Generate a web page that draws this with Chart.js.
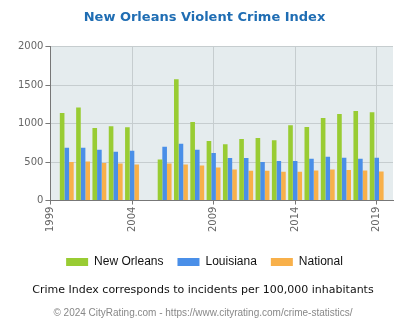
<!DOCTYPE html>
<html><head><meta charset="utf-8">
<script src="https://cdn.jsdelivr.net/npm/chart.js@4.4.1/dist/chart.umd.min.js"></script>
<style>
html,body{margin:0;padding:0;background:#fff;}
#wrap{position:relative;width:406px;height:330px;}
#cap{position:absolute;left:0;width:406px;top:283px;text-align:center;font-family:"DejaVu Sans",sans-serif;font-size:11px;color:#111;}
#copy{position:absolute;left:0;width:406px;top:307px;text-align:center;font-family:"Liberation Sans",Arial,sans-serif;font-size:10px;color:#888;}
</style></head>
<body><div id="wrap"><canvas id="c" width="406" height="330"></canvas>
<div id="cap">Crime Index corresponds to incidents per 100,000 inhabitants</div>
<div id="copy">© 2024 CityRating.com - https://www.cityrating.com/crime-statistics/</div></div>
<script>
const years = [2000,2001,2002,2003,2004,2006,2007,2008,2009,2010,2011,2012,2013,2014,2015,2016,2017,2018,2019];
const newOrleans = [1137,1210,944,966,953,532,1575,1021,773,730,798,811,785,979,957,1072,1123,1162,1147];
const louisiana = [687,687,661,635,648,700,738,661,618,554,554,502,515,515,544,570,555,544,557];
const national = [502,506,489,481,468,481,468,455,429,403,386,386,373,373,389,404,398,389,376];
const xTicks = [1999,2004,2009,2014,2019];
const yTicks = [0,500,1000,1500,2000];

const pts = arr => years.map((y,i)=>({x:y,y:arr[i]}));
const bgPlugin = {id:'bg',beforeDraw(ch){const a=ch.chartArea,c=ch.ctx;c.save();c.fillStyle='#e5ecee';c.fillRect(a.left,a.top,a.right-a.left,a.bottom-a.top);c.restore();}};

new Chart(document.getElementById('c'),{
  type:'bar',
  data:{datasets:[
    {label:'New Orleans',data:pts(newOrleans),backgroundColor:'#99cc33'},
    {label:'Louisiana',data:pts(louisiana),backgroundColor:'#4a8fe8'},
    {label:'National',data:pts(national),backgroundColor:'#f8b04a'}
  ]},
  options:{
    responsive:false,animation:false,
    categoryPercentage:0.85,barPercentage:1.0,
    layout:{padding:{left:16,right:13,top:0,bottom:52}},
    plugins:{
      title:{display:true,text:'New Orleans Violent Crime Index',color:'#1f6db3',font:{family:'DejaVu Sans',size:13,weight:'bold'},padding:{top:10,bottom:21}},
      legend:{position:'bottom',labels:{boxWidth:22,boxHeight:8,padding:14,color:'#111',font:{family:'Liberation Sans',size:12}}},
      tooltip:{enabled:false}
    },
    scales:{
      x:{type:'linear',min:1999,max:2020,offset:false,
        afterBuildTicks:s=>{s.ticks=xTicks.map(v=>({value:v}));},
        afterFit:s=>{s.height+=8;},
        ticks:{minRotation:90,maxRotation:90,color:'#666',font:{family:'DejaVu Sans',size:10},callback:v=>String(v),padding:2},
        grid:{color:'#c6cdcf',tickColor:'#777',tickLength:4,offset:false},
        border:{color:'#777'}
      },
      y:{min:0,max:2000,
        afterBuildTicks:s=>{s.ticks=yTicks.map(v=>({value:v}));},
        ticks:{color:'#666',font:{family:'DejaVu Sans',size:10},callback:v=>String(v),padding:2},
        grid:{color:'#c6cdcf',tickColor:'#777',tickLength:5},
        border:{color:'#777'}
      }
    }
  },
  plugins:[bgPlugin]
});
</script></body></html>
